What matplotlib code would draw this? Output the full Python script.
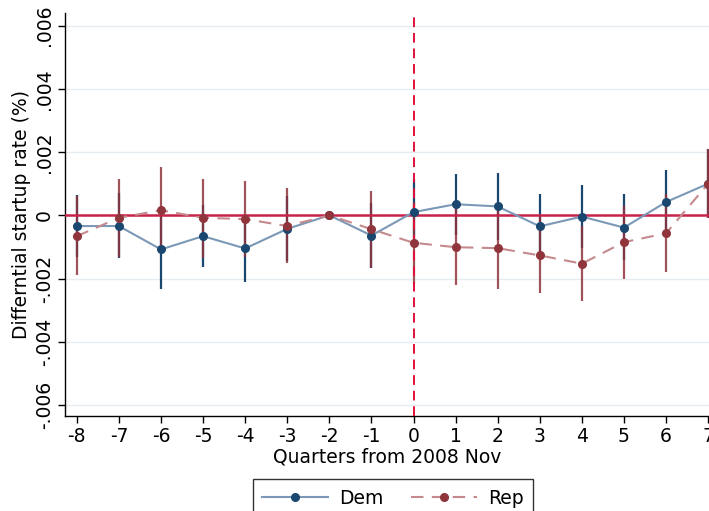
"""Event-study style plot: differential startup rate by quarter, Dem vs Rep."""
import matplotlib
matplotlib.use("Agg")
import matplotlib.pyplot as plt
import numpy as np

quarters = np.arange(-8, 8)

dem = [-0.00034, -0.00034, -0.00108, -0.00066, -0.00105, -0.00043, 0.0, -0.00064,
       0.00010, 0.00035, 0.00028, -0.00035, -0.00004, -0.00039, 0.00042, 0.00100]
dem_lo = [-0.00133, -0.00136, -0.00232, -0.00164, -0.00211, -0.00145, 0.0, -0.00167,
          -0.00095, -0.00062, -0.00077, -0.00136, -0.00104, -0.00141, -0.00060, -0.00010]
dem_hi = [0.00065, 0.00070, 0.00016, 0.00032, 0.00001, 0.00060, 0.0, 0.00040,
          0.00115, 0.00132, 0.00133, 0.00066, 0.00096, 0.00066, 0.00144, 0.00210]

rep = [-0.00066, -0.00008, 0.00016, -0.00008, -0.00012, -0.00034, 0.0, -0.00044,
       -0.00087, -0.00101, -0.00104, -0.00127, -0.00153, -0.00085, -0.00057, 0.00100]
rep_lo = [-0.00190, -0.00133, -0.00120, -0.00134, -0.00132, -0.00152, 0.0, -0.00166,
          -0.00217, -0.00222, -0.00233, -0.00246, -0.00272, -0.00200, -0.00180, -0.00010]
rep_hi = [0.00060, 0.00115, 0.00152, 0.00115, 0.00108, 0.00087, 0.0, 0.00078,
          0.00043, 0.00020, 0.00025, -0.00005, -0.00033, 0.00028, 0.00068, 0.00210]

y_ticks = [-0.006, -0.004, -0.002, 0.0, 0.002, 0.004, 0.006]
y_ticklabels = ["-.006", "-.004", "-.002", "0", ".002", ".004", ".006"]

NAVY = "#1a476f"
NAVY_LINE = "#7b98b6"
MAROON = "#90353b"
MAROON_LINE = "#c48a8e"
CRIMSON = "#c8234a"
FS = 13.5

plt.rcParams["font.family"] = "DejaVu Sans"

fig = plt.figure(figsize=(7.09, 5.11), dpi=100)
ax = fig.add_axes([65 / 709, 95 / 511, 644 / 709, 403 / 511])

# gridlines
for yv in y_ticks:
    if yv != 0:
        ax.axhline(yv, color="#e6edf1", lw=1.0, zorder=0)

# confidence intervals
ax.vlines(quarters, dem_lo, dem_hi, color=NAVY, lw=1.6, zorder=2)
ax.vlines(quarters, rep_lo, rep_hi, color=MAROON, lw=1.6, alpha=0.85, zorder=3)

ax.axhline(0, color=CRIMSON, lw=1.8, zorder=4)
ax.axvline(0, color="#e0103a", lw=1.4, ls=(0, (5, 3)), zorder=4)

ax.plot(quarters, dem, color=NAVY_LINE, lw=1.5, marker="o", ms=5.5,
        mfc=NAVY, mec=NAVY, zorder=5, label="Dem")
ax.plot(quarters, rep, color=MAROON_LINE, lw=1.5, ls=(0, (6, 4)), marker="o", ms=5.5,
        mfc=MAROON, mec=MAROON, zorder=6, label="Rep")

ax.set_xlim(-8.28, 7.02)
ax.set_ylim(-0.00635, 0.0064)
ax.set_xticks(quarters)
ax.set_xticklabels([str(q) for q in quarters], fontsize=FS)
ax.set_yticks(y_ticks)
ax.set_yticklabels(y_ticklabels, fontsize=FS, rotation=90, va="center")
ax.tick_params(axis="both", direction="out", length=5, width=1, color="black", pad=3)
ax.set_xlabel("Quarters from 2008 Nov", fontsize=FS, labelpad=1)
ax.set_ylabel("Differntial startup rate (%)", fontsize=FS, labelpad=3)

for side in ("top", "right"):
    ax.spines[side].set_visible(False)
for side in ("left", "bottom"):
    ax.spines[side].set_linewidth(1.0)

handles, labels = ax.get_legend_handles_labels()
leg = fig.legend(handles, labels, loc="upper center", ncol=2,
                 bbox_to_anchor=(393 / 709, 1 - 470 / 511), fontsize=FS,
                 handlelength=3.5, columnspacing=1.5, handletextpad=0.6,
                 fancybox=False, frameon=True, borderpad=0.5)
leg.get_frame().set_edgecolor("black")
leg.get_frame().set_linewidth(1.0)

fig.savefig("out.png", dpi=100)
